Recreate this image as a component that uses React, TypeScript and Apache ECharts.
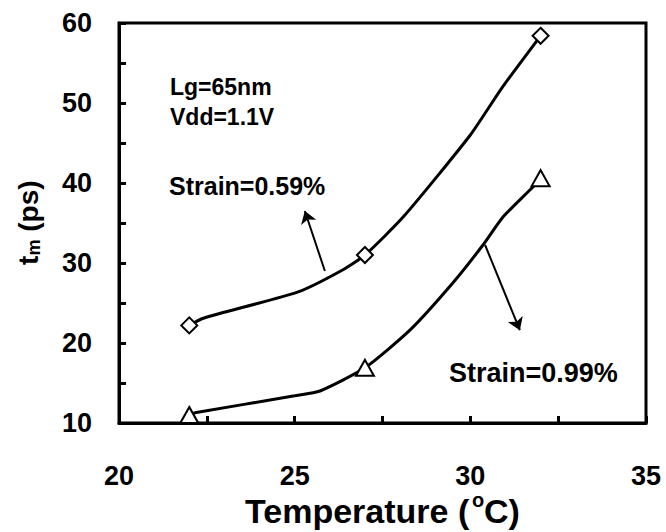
import React, { useEffect, useRef } from "react";
import * as echarts from "echarts";

// Strain = 0.59 % (diamonds)
const markers059: [number, number][] = [
  [22, 22.2],
  [27, 31.0],
  [32, 58.4],
];
// fitted curve
const curve059: [number, number][] = [
  [22, 22.2],
  [22.4, 23.1],
  [25.1, 26.4],
  [26.35, 29.1],
  [27, 31.0],
  [28.1, 35.8],
  [30, 46.0],
  [30.9, 51.9],
  [32, 58.4],
];

// Strain = 0.99 % (triangles)
const markers099: [number, number][] = [
  [22, 11.0],
  [27, 16.9],
  [32, 40.6],
];
const curve099: [number, number][] = [
  [22, 11.0],
  [22.2, 11.3],
  [25, 13.4],
  [25.72, 14.0],
  [27, 16.9],
  [28.28, 21.6],
  [29.5, 27.5],
  [30.36, 32.25],
  [30.93, 35.75],
  [31.78, 39.5],
  [32, 40.6],
];

// annotation arrows: [start, tip]
const arrow059: [number, number][] = [
  [25.86, 29.0],
  [25.29, 36.5],
];
const arrow099: [number, number][] = [
  [30.42, 32.25],
  [31.41, 21.6],
];

const xMin = 20;
const xMax = 35;
const xStep = 2.5;
const xLabelStep = 5;
const yMin = 10;
const yMax = 60;
const yStep = 5;
const yLabelStep = 10;

const FONT = '"Liberation Sans", Arial, sans-serif';

export default function App() {
  const ref = useRef<HTMLDivElement>(null);

  useEffect(() => {
    if (!ref.current) return;
    const chart = echarts.init(ref.current, null, { renderer: "svg" });

    const textStyle = (size: number) => ({
      fontFamily: FONT,
      fontWeight: "bold" as const,
      fontSize: size,
      fill: "#000",
    });

    chart.setOption({
      animation: false,
      backgroundColor: "#fff",
      grid: {
        left: 119,
        right: 20,
        top: 23,
        bottom: 109,
        show: true,
        borderColor: "#000",
        borderWidth: 3,
        backgroundColor: "transparent",
      },
      xAxis: {
        type: "value",
        min: xMin,
        max: xMax,
        interval: xStep,
        axisLine: { show: true, lineStyle: { color: "#000", width: 3 } },
        axisTick: { show: true, inside: true, length: 7, lineStyle: { color: "#000", width: 3 } },
        splitLine: { show: false },
        axisLabel: {
          margin: 39,
          color: "#000",
          fontFamily: FONT,
          fontWeight: "bold",
          fontSize: 27,
          formatter: (v: number) => (Math.abs(v % xLabelStep) < 1e-9 ? String(v) : ""),
        },
      },
      yAxis: {
        type: "value",
        min: yMin,
        max: yMax,
        interval: yStep,
        axisLine: { show: true, lineStyle: { color: "#000", width: 3 } },
        axisTick: { show: true, inside: true, length: 7, lineStyle: { color: "#000", width: 3 } },
        splitLine: { show: false },
        axisLabel: {
          margin: 27,
          color: "#000",
          fontFamily: FONT,
          fontWeight: "bold",
          fontSize: 27,
          formatter: (v: number) => (Math.abs(v % yLabelStep) < 1e-9 ? String(v) : ""),
        },
      },
      series: [
        {
          type: "line",
          data: curve059,
          smooth: 0.2,
          showSymbol: false,
          lineStyle: { color: "#000", width: 3 },
          z: 2,
        },
        {
          type: "line",
          data: curve099,
          smooth: 0.2,
          showSymbol: false,
          lineStyle: { color: "#000", width: 3 },
          z: 2,
        },
        {
          type: "scatter",
          data: markers059,
          symbol: "diamond",
          symbolSize: 16,
          itemStyle: { color: "#fff", borderColor: "#000", borderWidth: 2, opacity: 1 },
          z: 3,
        },
        {
          type: "scatter",
          data: markers099,
          symbol: "triangle",
          symbolSize: [18, 16],
          itemStyle: { color: "#fff", borderColor: "#000", borderWidth: 2, opacity: 1 },
          z: 3,
        },
        {
          type: "lines",
          coordinateSystem: "cartesian2d",
          symbol: ["none", "arrow"],
          symbolSize: 12,
          lineStyle: { color: "#000", width: 2, opacity: 1 },
          data: [{ coords: arrow059 }, { coords: arrow099 }],
          z: 4,
        },
      ],
      graphic: [
        {
          type: "text",
          x: 170,
          y: 87,
          style: { ...textStyle(23), text: "Lg=65nm", align: "left", verticalAlign: "middle" },
        },
        {
          type: "text",
          x: 170,
          y: 117,
          style: { ...textStyle(23), text: "Vdd=1.1V", align: "left", verticalAlign: "middle" },
        },
        {
          type: "text",
          x: 169,
          y: 186,
          style: { ...textStyle(25), text: "Strain=0.59%", align: "left", verticalAlign: "middle" },
        },
        {
          type: "text",
          x: 449,
          y: 373,
          style: { ...textStyle(27), text: "Strain=0.99%", align: "left", verticalAlign: "middle" },
        },
        // x axis title: Temperature (°C) with superscript o
        {
          type: "group",
          x: 245,
          y: 511,
          children: [
            {
              type: "text",
              x: 0,
              y: 0,
              style: { ...textStyle(34), text: "Temperature (", align: "left", verticalAlign: "middle" },
            },
            {
              type: "text",
              x: 227,
              y: -11,
              style: { ...textStyle(20), text: "o", align: "left", verticalAlign: "middle" },
            },
            {
              type: "text",
              x: 239,
              y: 0,
              style: { ...textStyle(34), text: "C)", align: "left", verticalAlign: "middle" },
            },
          ],
        },
        // y axis title: t_m (ps), rotated
        {
          type: "group",
          x: 28,
          y: 223,
          rotation: Math.PI / 2,
          children: [
            {
              type: "text",
              x: -42,
              y: 0,
              style: { ...textStyle(28), text: "t", align: "left", verticalAlign: "middle" },
            },
            {
              type: "text",
              x: -32.5,
              y: 6,
              style: { ...textStyle(18), text: "m", align: "left", verticalAlign: "middle" },
            },
            {
              type: "text",
              x: -16.5,
              y: 0,
              style: { ...textStyle(28), text: " (ps)", align: "left", verticalAlign: "middle" },
            },
          ],
        },
      ],
    });

    return () => chart.dispose();
  }, []);

  return (
    <div
      ref={ref}
      style={{ position: "absolute", left: 0, top: 0, width: 666, height: 532, background: "#fff" }}
    />
  );
}
